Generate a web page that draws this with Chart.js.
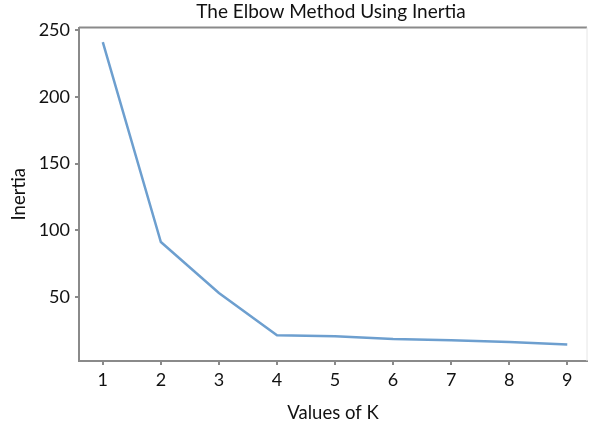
<!DOCTYPE html>
<html>
<head>
<meta charset="utf-8">
<script src="https://cdn.jsdelivr.net/npm/chart.js@4.4.0/dist/chart.umd.min.js"></script>
<style>
html,body{margin:0;padding:0;background:#fff;}
#wrap{width:589px;height:424px;position:relative;}
</style>
</head>
<body>
<div id="wrap"><canvas id="c" width="589" height="424"></canvas></div>
<script>
const kValues = [1, 2, 3, 4, 5, 6, 7, 8, 9];
const inertia = [241, 91.2, 53, 21.3, 20.5, 18.5, 17.5, 16.2, 14.3];
const yTicks = [50, 100, 150, 200, 250];
const xTicks = [1, 2, 3, 4, 5, 6, 7, 8, 9];
const chartTitle = 'The Elbow Method Using Inertia';

const FONT = 'Lato, "Open Sans", sans-serif';

const framePlugin = {
  id: 'frame',
  afterDraw(chart) {
    const {ctx, chartArea: a} = chart;
    ctx.save();
    ctx.strokeStyle = '#8a8a8a';
    ctx.lineWidth = 2;
    ctx.beginPath();
    ctx.moveTo(a.left, a.top);
    ctx.lineTo(a.right, a.top);
    ctx.stroke();
    ctx.strokeStyle = '#e6e6e6';
    ctx.lineWidth = 1;
    ctx.beginPath();
    ctx.moveTo(a.right, a.top);
    ctx.lineTo(a.right, a.bottom);
    ctx.stroke();
    // title centred over the plot area
    ctx.fillStyle = '#111';
    ctx.font = '19px ' + FONT;
    ctx.textAlign = 'center';
    ctx.textBaseline = 'middle';
    ctx.fillText(chartTitle, (a.left + a.right) / 2 - 2, 12);
    ctx.restore();
  }
};

new Chart(document.getElementById('c'), {
  type: 'line',
  data: {
    datasets: [{
      data: kValues.map((k, i) => ({x: k, y: inertia[i]})),
      borderColor: '#6d9fcf',
      borderWidth: 2.5,
      pointRadius: 0,
      tension: 0,
      fill: false
    }]
  },
  options: {
    responsive: false,
    animation: false,
    layout: {padding: {left: 0, right: 2, top: 27.5, bottom: 0}},
    plugins: {
      legend: {display: false},
      tooltip: {enabled: false},
      title: {display: false}
    },
    scales: {
      x: {
        type: 'linear',
        min: 0.59,
        max: 9.34,
        afterBuildTicks(s) { s.ticks = xTicks.map(v => ({value: v})); },
        afterFit(s) { s.height = 63; },
        grid: {drawOnChartArea: false, drawTicks: true, tickLength: 4, color: '#8a8a8a', lineWidth: 2},
        border: {display: true, color: '#8a8a8a', width: 2},
        ticks: {color: '#111', font: {family: FONT, size: 18}, padding: 4},
        title: {display: true, text: 'Values of K', color: '#111', font: {family: FONT, size: 18.5}, padding: {top: 2.4, bottom: 0}}
      },
      y: {
        type: 'linear',
        min: 2,
        max: 252,
        afterBuildTicks(s) { s.ticks = yTicks.map(v => ({value: v})); },
        afterFit(s) { s.width = 79; },
        grid: {drawOnChartArea: false, drawTicks: true, tickLength: 4, color: '#8a8a8a', lineWidth: 2},
        border: {display: true, color: '#8a8a8a', width: 2},
        ticks: {color: '#111', font: {family: FONT, size: 18}, padding: 5},
        title: {display: true, text: 'Inertia', color: '#111', font: {family: FONT, size: 18.5}, padding: {top: 8, bottom: 0}}
      }
    }
  },
  plugins: [framePlugin]
});
</script>
</body>
</html>
